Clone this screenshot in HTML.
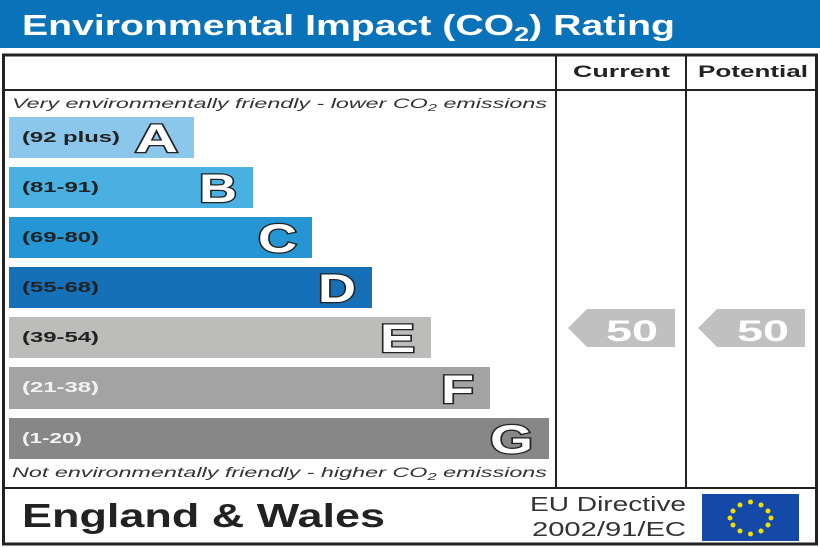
<!DOCTYPE html>
<html><head><style>body{margin:0;background:#fff}svg{display:block}</style></head><body>
<svg width="820" height="547" viewBox="0 0 820 547" xmlns="http://www.w3.org/2000/svg" font-family="Liberation Sans, sans-serif">
<rect x="0" y="0" width="820" height="48" fill="#0a72b9"/>
<text x="22" y="35" font-size="29" font-weight="bold" fill="#fff" textLength="653" lengthAdjust="spacingAndGlyphs">Environmental Impact (CO<tspan font-size="20" dy="6">2</tspan><tspan dy="-6">) Rating</tspan></text>
<rect x="3.5" y="55" width="813" height="489" fill="#fff" stroke="#222" stroke-width="3"/>
<line x1="3" y1="90" x2="817" y2="90" stroke="#222" stroke-width="2"/>
<line x1="556" y1="55" x2="556" y2="488" stroke="#222" stroke-width="2"/>
<line x1="686" y1="55" x2="686" y2="488" stroke="#222" stroke-width="2"/>
<line x1="3" y1="488" x2="817" y2="488" stroke="#222" stroke-width="2"/>
<text x="573" y="77" font-size="17" font-weight="bold" fill="#222" textLength="97" lengthAdjust="spacingAndGlyphs">Current</text>
<text x="698" y="77" font-size="17" font-weight="bold" fill="#222" textLength="110" lengthAdjust="spacingAndGlyphs">Potential</text>
<text x="12" y="108" font-size="14" font-style="italic" fill="#333" textLength="535" lengthAdjust="spacingAndGlyphs">Very environmentally friendly - lower CO<tspan font-size="10" dy="3">2</tspan><tspan dy="-3"> emissions</tspan></text>
<text x="12" y="477" font-size="14" font-style="italic" fill="#333" textLength="535" lengthAdjust="spacingAndGlyphs">Not environmentally friendly - higher CO<tspan font-size="10" dy="3">2</tspan><tspan dy="-3"> emissions</tspan></text>
<g font-weight="bold">
<rect x="9" y="117" width="185" height="41" fill="#8bc7eb"/>
<text x="22" y="142" font-size="15" fill="#222" textLength="98" lengthAdjust="spacingAndGlyphs">(92 plus)</text>
<text x="135" y="152" font-size="40" fill="#fff" stroke="#222" stroke-width="2.5" paint-order="stroke" textLength="43" lengthAdjust="spacingAndGlyphs">A</text>
<rect x="9" y="167" width="244" height="41" fill="#4ab0e2"/>
<text x="22" y="192" font-size="15" fill="#222" textLength="77" lengthAdjust="spacingAndGlyphs">(81-91)</text>
<text x="199" y="202" font-size="40" fill="#fff" stroke="#222" stroke-width="2.5" paint-order="stroke" textLength="38" lengthAdjust="spacingAndGlyphs">B</text>
<rect x="9" y="217" width="303" height="41" fill="#2595d3"/>
<text x="258" y="252" font-size="40" fill="#fff" stroke="#222" stroke-width="2.5" paint-order="stroke" textLength="39" lengthAdjust="spacingAndGlyphs">C</text>
<text x="22" y="242" font-size="15" fill="#222" textLength="77" lengthAdjust="spacingAndGlyphs">(69-80)</text>
<rect x="9" y="267" width="363" height="41" fill="#1570b8"/>
<text x="22" y="292" font-size="15" fill="#222" textLength="77" lengthAdjust="spacingAndGlyphs">(55-68)</text>
<text x="318" y="302" font-size="40" fill="#fff" stroke="#222" stroke-width="2.5" paint-order="stroke" textLength="38" lengthAdjust="spacingAndGlyphs">D</text>
<rect x="9" y="317" width="422" height="41" fill="#bcbcbb"/>
<text x="22" y="342" font-size="15" fill="#222" textLength="77" lengthAdjust="spacingAndGlyphs">(39-54)</text>
<text x="380" y="352" font-size="40" fill="#fff" stroke="#222" stroke-width="2.5" paint-order="stroke" textLength="35" lengthAdjust="spacingAndGlyphs">E</text>
<rect x="9" y="367" width="481" height="42" fill="#a3a3a3"/>
<text x="22" y="392" font-size="15" fill="#f2f2f2" textLength="77" lengthAdjust="spacingAndGlyphs">(21-38)</text>
<text x="441" y="403" font-size="40" fill="#fff" stroke="#222" stroke-width="2.5" paint-order="stroke" textLength="33" lengthAdjust="spacingAndGlyphs">F</text>
<rect x="9" y="418" width="540" height="41" fill="#878787"/>
<text x="22" y="443" font-size="15" fill="#f2f2f2" textLength="60" lengthAdjust="spacingAndGlyphs">(1-20)</text>
<text x="490" y="453" font-size="40" fill="#fff" stroke="#222" stroke-width="2.5" paint-order="stroke" textLength="43" lengthAdjust="spacingAndGlyphs">G</text>
</g>
<polygon points="568,328 587,309 675,309 675,347 587,347" fill="#c0c0c0"/>
<text x="606" y="341" font-size="30" font-weight="bold" fill="#fff" textLength="52" lengthAdjust="spacingAndGlyphs">50</text>
<polygon points="698,328 717,309 805,309 805,347 717,347" fill="#c0c0c0"/>
<text x="737" y="341" font-size="30" font-weight="bold" fill="#fff" textLength="52" lengthAdjust="spacingAndGlyphs">50</text>
<text x="22" y="527" font-size="33" font-weight="bold" fill="#222" textLength="363" lengthAdjust="spacingAndGlyphs">England &amp; Wales</text>
<text x="530" y="511" font-size="20" fill="#333" textLength="156" lengthAdjust="spacingAndGlyphs">EU Directive</text>
<text x="532" y="536" font-size="20" fill="#333" textLength="154" lengthAdjust="spacingAndGlyphs">2002/91/EC</text>
<rect x="702" y="494" width="97" height="47" fill="#1549a8"/>
<g fill="#f4e000">
<circle cx="750.5" cy="502" r="2.5"/><circle cx="761" cy="505" r="2.5"/><circle cx="768" cy="511" r="2.5"/><circle cx="771" cy="518" r="2.5"/><circle cx="768" cy="525" r="2.5"/><circle cx="761" cy="531" r="2.5"/><circle cx="750.5" cy="534" r="2.5"/><circle cx="740" cy="531" r="2.5"/><circle cx="733" cy="525" r="2.5"/><circle cx="730" cy="518" r="2.5"/><circle cx="733" cy="511" r="2.5"/><circle cx="740" cy="505" r="2.5"/>
</g>
</svg>
</body></html>
